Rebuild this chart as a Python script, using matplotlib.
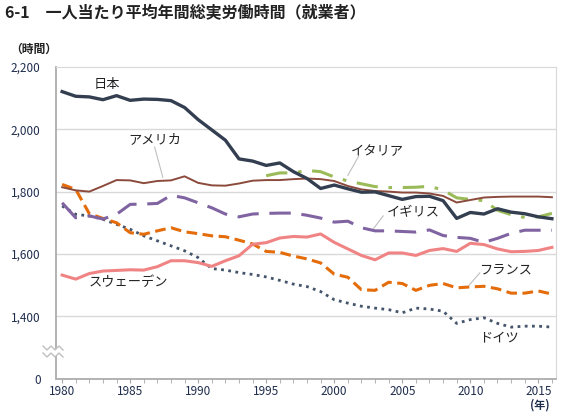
import matplotlib
matplotlib.use("Agg")
import matplotlib.pyplot as plt
import numpy as np

plt.rcParams['font.family'] = ['Noto Sans CJK JP', 'DejaVu Sans']

years = list(range(1980, 2017))

japan = [2121, 2106, 2104, 2095, 2108, 2093, 2097, 2096, 2092, 2070,
         2031, 1998, 1965, 1905, 1898, 1884, 1892, 1864, 1842, 1810,
         1821, 1809, 1798, 1799, 1787, 1775, 1784, 1785, 1771, 1714,
         1733, 1728, 1745, 1734, 1729, 1719, 1713]
usa = [1814, 1804, 1800, 1818, 1837, 1836, 1827, 1834, 1836, 1849,
       1828, 1820, 1819, 1826, 1835, 1837, 1837, 1840, 1842, 1840,
       1834, 1818, 1807, 1802, 1800, 1797, 1797, 1794, 1786, 1765,
       1773, 1781, 1783, 1784, 1784, 1784, 1782]
# イタリアは1995年から
italy_years = list(range(1995, 2017))
italy = [1851, 1860, 1860, 1868, 1864, 1847, 1834, 1825, 1816, 1813,
         1813, 1814, 1817, 1805, 1780, 1775, 1771, 1740, 1726, 1717,
         1719, 1730]
uk = [1764, 1716, 1722, 1712, 1727, 1759, 1760, 1762, 1788, 1780,
      1764, 1748, 1728, 1719, 1728, 1730, 1731, 1731, 1724, 1715,
      1702, 1705, 1684, 1674, 1674, 1672, 1670, 1677, 1659, 1653,
      1650, 1637, 1650, 1666, 1676, 1676, 1676]
sweden = [1532, 1519, 1537, 1545, 1547, 1549, 1548, 1559, 1578, 1578,
          1572, 1560, 1578, 1594, 1631, 1636, 1651, 1656, 1654, 1664,
          1637, 1616, 1595, 1581, 1603, 1603, 1595, 1611, 1617, 1608,
          1634, 1630, 1616, 1607, 1608, 1611, 1621]
france = [1823, 1807, 1729, 1714, 1700, 1668, 1663, 1674, 1684, 1671,
          1665, 1658, 1655, 1644, 1632, 1608, 1605, 1593, 1584, 1571,
          1535, 1525, 1485, 1483, 1509, 1505, 1483, 1499, 1505, 1491,
          1494, 1496, 1488, 1474, 1474, 1481, 1471]
germany = [1754, 1727, 1722, 1711, 1695, 1679, 1658, 1642, 1626, 1610,
           1588, 1553, 1548, 1540, 1534, 1526, 1515, 1503, 1495, 1479,
           1453, 1442, 1432, 1426, 1421, 1411, 1426, 1423, 1416, 1377,
           1389, 1395, 1377, 1365, 1368, 1368, 1365]

ytick_vals = [1200, 1400, 1600, 1800, 2000, 2200]
ytick_labels = ["0", "1,400", "1,600", "1,800", "2,000", "2,200"]
xtick_vals = [1980, 1985, 1990, 1995, 2000, 2005, 2010, 2015]

fig = plt.figure(figsize=(5.61, 4.13), dpi=100)
ax = fig.add_axes([56/561, 1-378.5/413, 500/561, 311.5/413])

lw = 2.2
ax.plot(years, germany, color="#44546a", lw=2.0, linestyle=(0, (1, 1.6)))
ax.plot(years, france, color="#e46c0a", lw=lw, linestyle=(0, (3.5, 1.8)))
ax.plot(years, sweden, color="#f08484", lw=lw)
ax.plot(years, uk, color="#8064a2", lw=lw, linestyle=(0, (7, 3.5)))
ax.plot(italy_years, italy, color="#9bbb59", lw=lw, linestyle=(0, (7, 3.5, 1.2, 3.5)))
ax.plot(years, usa, color="#8b4a3c", lw=1.4)
ax.plot(years, japan, color="#333f50", lw=2.4)

ax.set_xlim(1979.55, 2016.3)
ax.set_ylim(1200, 2200)
ax.set_yticks(ytick_vals)
ax.set_yticklabels(ytick_labels)
ax.set_xticks(xtick_vals)
ax.set_xticks(years, minor=True)
ax.tick_params(axis="y", length=0, labelsize=8.5, labelcolor="#1f2d4d", pad=11)
ax.tick_params(axis="x", which="both", length=3, color="#a6a6a6", labelsize=8.5,
               labelcolor="#1f2d4d", pad=1.5)
for v in [1400, 1600, 1800, 2000]:
    ax.axhline(v, color="#d9d9d9", lw=1, zorder=0)
for s in ["top", "right"]:
    ax.spines[s].set_color("#d9d9d9")
for s in ["left", "bottom"]:
    ax.spines[s].set_color("#a6a6a6")
    ax.spines[s].set_linewidth(1.2)

# 系列ラベル
lab = dict(fontsize=9.5, color="#222222", ha="center", va="center")
ax.text(1983.3, 2145, "日本", **lab)
ax.text(1986.8, 1966, "アメリカ", **lab)
ax.text(2003.2, 1930, "イタリア", **lab)
ax.text(2005.8, 1731, "イギリス", **lab)
ax.text(2012.6, 1548, "フランス", **lab)
ax.text(2012.1, 1330, "ドイツ", **lab)
ax.text(1984.9, 1507, "スウェーデン", **lab)
lead = dict(color="#bfbfbf", lw=0.8)
ax.plot([1986.8, 1987.4], [1943, 1846], **lead)
ax.plot([2001.8, 2001.0], [1914, 1852], **lead)
ax.plot([2003.6, 2002.9], [1722, 1682], **lead)
ax.plot([2010.7, 2009.9], [1539, 1499], **lead)

# 省略記号
zx = np.array([43, 47, 51, 55, 59, 63]) / 561
zz = np.array([2, -2, 2, -2, 2, -2]) / 413
y1 = 1 - 348/413
y2 = 1 - 355/413
fig.patches.append(plt.Polygon(np.column_stack([np.r_[zx, zx[::-1]],
                                                np.r_[y1 + zz, (y2 + zz)[::-1]]]),
                               closed=True, facecolor="white", edgecolor="none",
                               transform=fig.transFigure, zorder=5))
fig.add_artist(plt.Line2D(zx, y1 + zz, color="#bfbfbf", lw=1, transform=fig.transFigure, zorder=6))
fig.add_artist(plt.Line2D(zx, y2 + zz, color="#bfbfbf", lw=1, transform=fig.transFigure, zorder=6))

fig.text(5/561, 1-13/413, "6-1　一人当たり平均年間総実労働時間（就業者）",
         fontsize=11.5, fontweight="bold", color="#222222", va="center", ha="left")
fig.text(34/561, 1-49/413, "（時間）", fontsize=8.5, fontweight="bold", color="#222222",
         va="center", ha="center")
fig.text(540/561, 1-405.5/413, "(年)", fontsize=8, fontweight="bold", color="#1f2d4d",
         va="center", ha="center")

fig.savefig("out.png", dpi=100)
